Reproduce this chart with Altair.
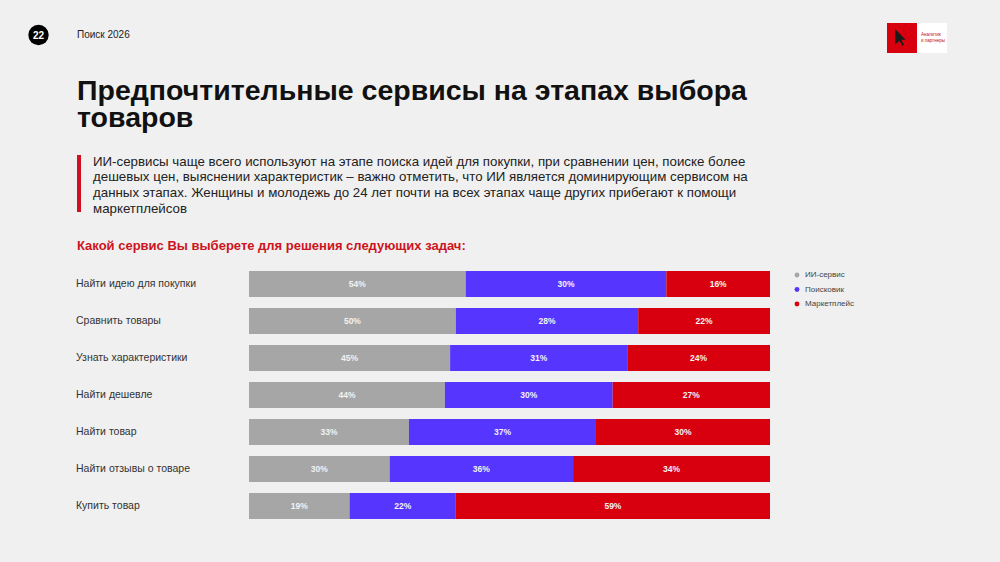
import altair as alt
import pandas as pd

# ---- data ----
tasks = ["Найти идею для покупки", "Сравнить товары", "Узнать характеристики",
         "Найти дешевле", "Найти товар", "Найти отзывы о товаре", "Купить товар"]
services = ["ИИ-сервис", "Поисковик", "Маркетплейс"]
colors = ["#a6a6a6", "#5636ff", "#d8000f"]

# printed percentages
label_ai = [54, 50, 45, 44, 33, 30, 19]
label_search = [30, 28, 31, 30, 37, 36, 22]
label_market = [16, 22, 24, 27, 30, 34, 59]

# segment lengths as drawn in the reference (share of the bar, %)
bar_ai = [41.6, 39.7, 38.6, 37.6, 30.7, 27.0, 19.3]
bar_search = [38.5, 35.0, 34.0, 32.2, 35.9, 35.2, 20.4]
bar_market = [19.9, 25.3, 27.4, 30.2, 33.4, 37.8, 60.3]

title_lines = ["Предпочтительные сервисы на этапах выбора", "товаров"]
para_lines = [
    "ИИ-сервисы чаще всего используют на этапе поиска идей для покупки, при сравнении цен, поиске более",
    "дешевых цен, выяснении характеристик – важно отметить, что ИИ является доминирующим сервисом на",
    "данных этапах. Женщины и молодежь до 24 лет почти на всех этапах чаще других прибегают к помощи",
    "маркетплейсов",
]
question = "Какой сервис Вы выберете для решения следующих задач:"
page_no = "22"
header = "Поиск 2026"

# ---- build table ----
rows = []
for i, t in enumerate(tasks):
    lens = [bar_ai[i], bar_search[i], bar_market[i]]
    labs = [label_ai[i], label_search[i], label_market[i]]
    tot = sum(lens)
    start = 0.0
    for k, s in enumerate(services):
        end = start + lens[k] / tot
        rows.append({"task": t, "service": s, "order": k, "start": start, "end": end,
                     "mid": (start + end) / 2, "label": f"{labs[k]}%"})
        start = end
df = pd.DataFrame(rows)

FONT = "Liberation Sans"
xs = alt.Scale(domain=[0, 1], range=[249, 770])
ys = alt.Scale(domain=tasks, range=[265.5, 524.5], paddingInner=0.297, paddingOuter=0.1485)
cs = alt.Scale(domain=services, range=colors)

base = alt.Chart(df)
bars = base.mark_bar(cornerRadius=0).encode(
    x=alt.X("start:Q", scale=xs, axis=None),
    x2="end:Q",
    y=alt.Y("task:N", scale=ys, axis=None, sort=tasks),
    color=alt.Color("service:N", scale=cs, sort=services,
                    legend=alt.Legend(title=None, orient="none", legendX=793, legendY=271,
                                      symbolType="circle", symbolSize=24, labelFontSize=8,
                                      labelFont=FONT, labelColor="#444444", rowPadding=6.5,
                                      symbolStrokeWidth=0)),
    order="order:Q",
)
bar_text = base.mark_text(font=FONT, fontSize=8.5, fontWeight="bold", color="#f2f2f2").encode(
    x=alt.X("mid:Q", scale=xs), y=alt.Y("task:N", scale=ys, sort=tasks), text="label:N")

row_labels = alt.Chart(pd.DataFrame({"task": tasks})).mark_text(
    font=FONT, fontSize=10.5, align="left", baseline="middle", color="#333333").encode(
    x=alt.value(76), y=alt.Y("task:N", scale=ys, sort=tasks), text="task:N")

one = pd.DataFrame({"a": [0]})


def txt(s, x, y, **kw):
    return alt.Chart(one).mark_text(font=FONT, align="left", baseline="alphabetic", **kw).encode(
        x=alt.value(x), y=alt.value(y), text=alt.value(s))


def rect(x1, x2, y1, y2, color):
    return alt.Chart(one).mark_rect(color=color).encode(
        x=alt.value(x1), x2=alt.value(x2), y=alt.value(y1), y2=alt.value(y2))


circle = alt.Chart(one).mark_circle(color="#000000", opacity=1, size=415).encode(
    x=alt.value(38.5), y=alt.value(35))
num = alt.Chart(one).mark_text(font=FONT, fontSize=10, fontWeight="bold", color="white",
                               align="center", baseline="middle").encode(
    x=alt.value(38.5), y=alt.value(35.5), text=alt.value(page_no))

cursor = alt.Chart(one).mark_point(
    shape="M-0.6,-1 L0.7,0.35 L0.15,0.35 L0.5,1 L0.25,1.1 L-0.05,0.45 L-0.6,0.9 Z",
    filled=True, color="#1a1a1a", opacity=1, size=260).encode(x=alt.value(900), y=alt.value(37))

layers = [
    rect(887, 917, 23, 53, "#d8000f"),
    rect(917, 947, 23, 53, "#ffffff"),
    cursor,
    txt("Аналитик", 921, 36, fontSize=4.5, color="#c0101a"),
    txt("и партнеры", 921, 42, fontSize=4.5, color="#c0101a"),
    circle, num,
    txt(header, 77, 38, fontSize=10, color="#222222"),
    txt(title_lines[0], 77, 100, fontSize=28.5, fontWeight="bold", color="#111111"),
    txt(title_lines[1], 77, 127, fontSize=28.5, fontWeight="bold", color="#111111"),
    rect(77, 81, 155, 212, "#d0101e"),
    txt("\n".join(para_lines), 93, 165.5, fontSize=13.3, color="#222222", lineBreak="\n",
        lineHeight=15.7),
    txt(question, 77, 250, fontSize=13, fontWeight="bold", color="#cc1420"),
    bars, bar_text, row_labels,
]

chart = alt.layer(*layers).properties(
    width=1000, height=562, autosize=alt.AutoSizeParams(type="none"), padding=0,
    background="#f0f0f0",
).configure_view(stroke=None)

chart.save("out.html", embed_options={"renderer": "svg", "actions": False})
